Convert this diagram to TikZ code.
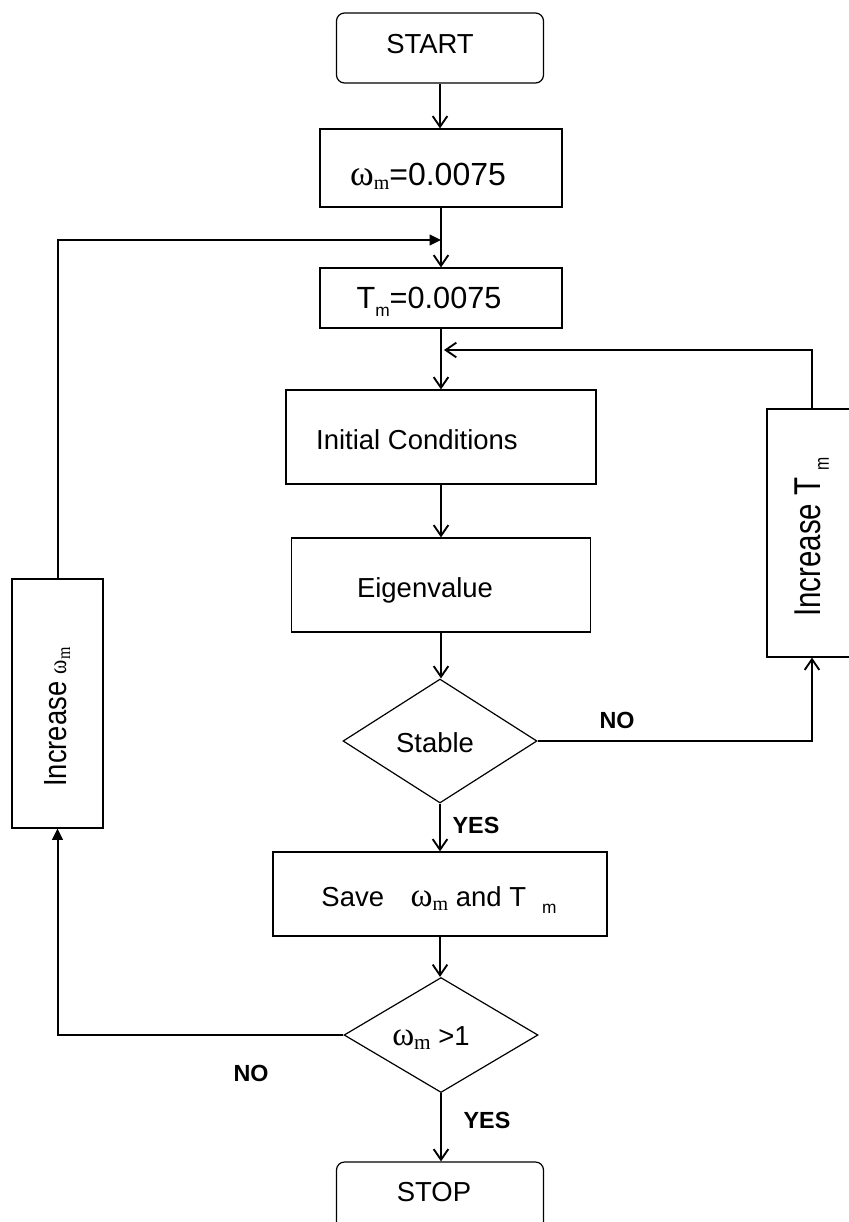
\documentclass[tikz,border=0pt]{standalone}
\usepackage{fontspec}
\setmainfont{Liberation Sans}
\newfontfamily\serif{Liberation Serif}
\usetikzlibrary{arrows.meta,shapes.geometric}
\newcommand\om[2]{{\fontsize{#1}{#1}\selectfont\serif ω}\raisebox{-3pt}{\fontsize{#2}{#2}\selectfont\serif m}}
\newcommand\sm[1]{\raisebox{-#1}{\fontsize{13}{13}\selectfont m}}
\begin{document}
\begin{tikzpicture}[x=0.75pt,y=-0.75pt,
  box/.style={draw,line width=0.9pt,inner sep=0pt,minimum width={#1*0.75pt}},
  rbox/.style={box=#1,rounded corners=6pt},
  dia/.style={draw,diamond,line width=0.9pt,inner sep=0pt,minimum width={#1*0.75pt}},
  arr/.style={line width=1.5pt,-{Straight Barb[length=8pt,width=11pt,line width=1.4pt]}},
  arrf/.style={line width=1.5pt,-{Triangle[length=8.5pt,width=8pt]}},
  ln/.style={line width=1.5pt},
  lab/.style={font=\fontsize{17.5}{20}\selectfont\bfseries},
  txt/.style={font=\fontsize{20.6}{24}\selectfont,inner sep=0pt}]
\useasboundingbox (0,0) rectangle (849,1222);
\clip (0,0) rectangle (849,1222);
% boxes
\node[rbox=207,minimum height={70*0.75pt}] (start) at (440,48) {};
\node[box=242,minimum height={78*0.75pt}] (w0) at (441,168) {};
\node[box=242,minimum height={60*0.75pt}] (tm) at (441,298) {};
\node[box=310,minimum height={94*0.75pt}] (ic) at (441,437) {};
\node[box=299,minimum height={94*0.75pt}] (eig) at (441,585) {};
\node[dia=194,minimum height={124*0.75pt}] (d1) at (440,741) {};
\node[box=334,minimum height={84*0.75pt}] (save) at (440,894) {};
\node[dia=194,minimum height={115*0.75pt}] (d2) at (441,1035) {};
\node[rbox=207,minimum height={76*0.75pt}] (stop) at (440,1200) {};
\node[box=90,minimum height={248*0.75pt}] (incT) at (812,533) {};
\node[box=91,minimum height={249*0.75pt}] (incW) at (57.5,703.5) {};
% texts
\node[txt] (startt) at (430,44) {START};
\node[txt,font=\fontsize{24}{26}\selectfont] (w0t) at (428,176) {\om{27}{15}=0.0075};
\node[txt,font=\fontsize{23}{26}\selectfont] (tmt) at (429,302) {T\sm{6pt}=0.0075};
\node[txt] (ict) at (417,440) {Initial Conditions};
\node[txt] (eigt) at (425,590) {Eigenvalue};
\node[txt] (d1t) at (435,743) {Stable};
\node[txt] (savet) at (439,900) {Save\hspace{20pt}\om{25}{15} and T\hspace{12pt}\sm{5pt}};
\node[txt] (d2t) at (431,1038) {\om{25}{16} >1};
\node[txt] (stopt) at (434,1192) {STOP};
\node[txt,rotate=90] (incTt) at (812,537) {\scalebox{0.79}[1]{\fontsize{28}{28}\selectfont Increase T\hspace{7pt}\raisebox{-6pt}{\fontsize{15}{15}\selectfont m}}};
\node[txt,rotate=90] (incWt) at (57,717) {\scalebox{0.855}[1]{\fontsize{24}{24}\selectfont Increase {\fontsize{19}{19}\selectfont\serif ω}\raisebox{-3pt}{\fontsize{14}{14}\selectfont\serif m}}};
% labels
\node[lab] (no1) at (617,720) {NO};
\node[lab] (yes1) at (476,825) {YES};
\node[lab] (no2) at (251,1073) {NO};
\node[lab] (yes2) at (487,1120) {YES};
% connectors
\coordinate (j1) at (441,240);
\coordinate (j2) at (441,350);
\coordinate (j2r) at (444,350);
\draw[arr] (start.south) -- (start.south |- w0.north);
\draw[ln] (w0.south) -- (j1);
\draw[arr] (j1) -- (tm.north);
\draw[arrf] (incW.north) |- (j1);
\draw[ln] (tm.south) -- (j2);
\draw[arr] (j2) -- (ic.north);
\draw[arr] (incT.north) |- (j2r);
\draw[arr] (ic.south) -- (eig.north);
\draw[arr] (eig.south) -- (eig.south |- d1.north);
\draw[arr] (d1.east) -| (incT.south);
\draw[arr] (d1.south) -- (save.north);
\draw[arr] (save.south) -- (save.south |- d2.north);
\draw[arrf] (d2.west) -| (incW.south);
\draw[arr] (d2.south) -- (d2.south |- stop.north);
\end{tikzpicture}
\end{document}
